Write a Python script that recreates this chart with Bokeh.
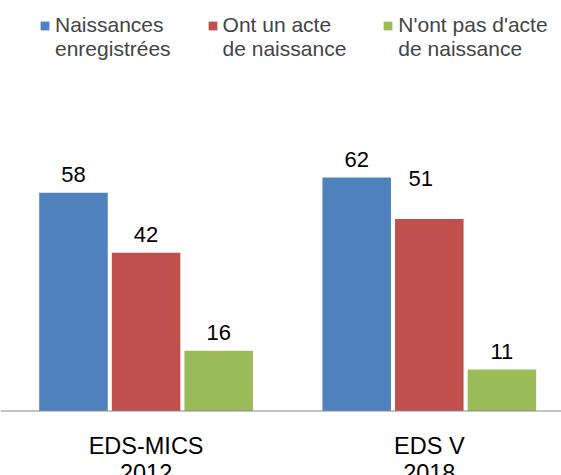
from bokeh.plotting import figure
from bokeh.models import ColumnDataSource, Range1d, Span, Legend, LegendItem
from bokeh.core.properties import value
from bokeh.embed import file_html
from bokeh.resources import INLINE

# ---- data ----
categories = ["EDS-MICS\n2012", "EDS V\n2018"]
series_names = ["Naissances\nenregistrées", "Ont un acte\nde naissance", "N'ont pas d'acte\nde naissance"]
naissances_enregistrees = [58, 62]
ont_un_acte = [42, 51]
sans_acte = [16, 11]
series_values = [naissances_enregistrees, ont_un_acte, sans_acte]

# ---- style ----
colors = ["#4F81BD", "#C0504D", "#9BBB59"]
FONT = "Liberation Sans"
offsets = [-0.2564, 0.0, 0.2564]
bar_w = 0.242
label_gap = -18.5
# manual nudge of a data label (series index, category index) -> (dx, dy) in px
label_nudge = {(1, 1): (-8.5, -22.3)}

W, H = 561, 475
p = figure(width=W, height=H, output_backend="svg", toolbar_location=None,
           x_range=Range1d(-0.0141, 1.9668), y_range=Range1d(-17.13, 109.03),
           x_axis_location=None, y_axis_location=None,
           min_border=0, min_border_left=0, min_border_right=0,
           min_border_top=0, min_border_bottom=0,
           outline_line_color=None, background_fill_color="white")
p.grid.visible = False

group_x = [i + 0.5 for i in range(len(categories))]

renderers = []
for k, (vals, col) in enumerate(zip(series_values, colors)):
    xs = [g + offsets[k] for g in group_x]
    xo = [label_nudge.get((k, i), (0, 0))[0] for i in range(len(vals))]
    yo = [label_gap + label_nudge.get((k, i), (0, 0))[1] for i in range(len(vals))]
    src = ColumnDataSource(dict(x=xs, top=vals, label=[str(v) for v in vals], xo=xo, yo=yo))
    r = p.vbar(x="x", top="top", bottom=0, width=bar_w, source=src,
               fill_color=col, line_color=None)
    renderers.append(r)
    p.text(x="x", y="top", text="label", source=src, x_offset="xo", y_offset="yo",
           text_align="center", text_baseline="alphabetic",
           text_font=value(FONT), text_font_size="22px", text_color="black")

# baseline (category axis line)
p.add_layout(Span(location=0, dimension="width", line_color="#898989", line_width=1))

# category labels
p.text(x=group_x, y=[0] * len(group_x), text=categories, y_offset=22,
       text_align="center", text_baseline="top", text_line_height=1.05,
       text_font=value(FONT), text_font_size="23.5px", text_color="black")

# legend: a leading empty line keeps each square level with the first text line
legend = Legend(items=[LegendItem(label="\n" + n, renderers=[r]) for n, r in zip(series_names, renderers)],
                orientation="horizontal", location=(39, 414), padding=0, margin=0,
                spacing=36, glyph_width=11, glyph_height=11, label_standoff=5,
                label_text_font=FONT, label_text_font_size="21px",
                border_line_color=None, background_fill_alpha=0)
p.add_layout(legend)

open("out.html", "w").write(file_html(p, INLINE))
